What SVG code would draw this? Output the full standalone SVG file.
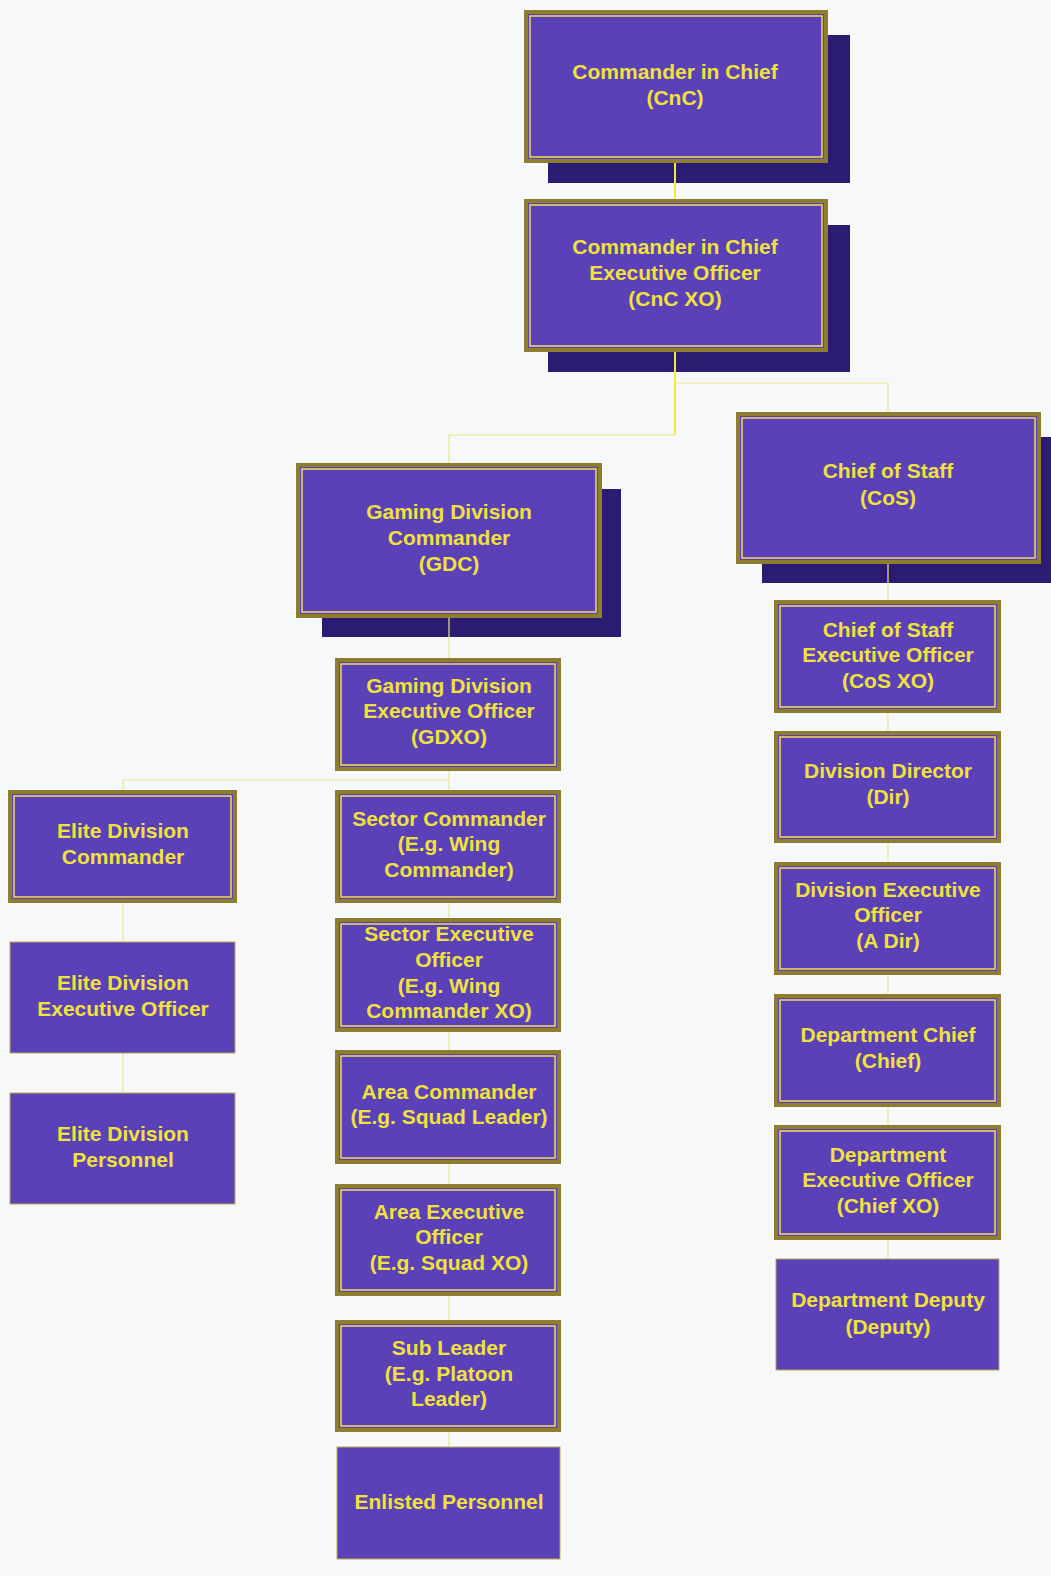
<svg xmlns="http://www.w3.org/2000/svg" width="1051" height="1576" viewBox="0 0 1051 1576">
<style>
.bg{fill:#f7f8fa}
.shadow{fill:#2b1b72}
.box{fill:#5a41b7}
.frame{fill:none;stroke:#8c7d2f;stroke-width:4}
.inner{fill:none;stroke:#e6d45c;stroke-width:1.6}
.plain{fill:#5a41b7;stroke:#b9a94a;stroke-width:1}
.lbl{font-family:"Liberation Sans",Arial,sans-serif;font-weight:bold;font-size:21px;fill:#f0e23c;text-anchor:middle}
.con{fill:none;stroke:#ede78a;stroke-width:1.2}
.conb{fill:none;stroke:#f2ea3a;stroke-width:2}
</style>
<rect class="bg" x="0" y="0" width="1051" height="1576"/>

<g id="shadows">
<rect class="shadow" x="548" y="35" width="302" height="148"/>
<rect class="shadow" x="548" y="225" width="302" height="147"/>
<rect class="shadow" x="322" y="489" width="299" height="148"/>
<rect class="shadow" x="762" y="437" width="289" height="146"/>
</g>

<g id="connectors">
<path class="conb" d="M675 161V201"/>
<path class="conb" d="M675 350V435"/>
<path class="con" d="M675 435H449V465"/>
<path class="con" d="M675 383H888V414"/>
<path class="con" d="M449 615V660"/>
<path class="con" d="M449 769V792"/>
<path class="con" d="M449 780H123V792"/>
<path class="con" d="M449 901V920"/>
<path class="con" d="M449 1030V1052"/>
<path class="con" d="M449 1162V1186"/>
<path class="con" d="M449 1294V1322"/>
<path class="con" d="M449 1430V1447"/>
<path class="con" d="M123 901V942"/>
<path class="con" d="M123 1053V1093"/>
<path class="con" d="M888 561V602"/>
<path class="con" d="M888 711V733"/>
<path class="con" d="M888 841V864"/>
<path class="con" d="M888 973V996"/>
<path class="con" d="M888 1105V1127"/>
<path class="con" d="M888 1238V1259"/>
</g>

<g id="cnc">
<rect class="box" x="526" y="12" width="300" height="149"/>
<rect class="frame" x="526" y="12" width="300" height="149"/>
<rect class="inner" x="530" y="16" width="292" height="141"/>
<text class="lbl" x="675" y="79">Commander in Chief</text>
<text class="lbl" x="675" y="105">(CnC)</text>
</g>

<g id="cncxo">
<rect class="box" x="526" y="201" width="300" height="149"/>
<rect class="frame" x="526" y="201" width="300" height="149"/>
<rect class="inner" x="530" y="205" width="292" height="141"/>
<text class="lbl" x="675" y="254">Commander in Chief</text>
<text class="lbl" x="675" y="280">Executive Officer</text>
<text class="lbl" x="675" y="306">(CnC XO)</text>
</g>

<g id="cos">
<rect class="box" x="738" y="414" width="301" height="148"/>
<rect class="frame" x="738" y="414" width="301" height="148"/>
<rect class="inner" x="742" y="418" width="293" height="140"/>
<text class="lbl" x="888" y="478">Chief of Staff</text>
<text class="lbl" x="888" y="505">(CoS)</text>
</g>

<g id="gdc">
<rect class="box" x="298" y="465" width="302" height="151"/>
<rect class="frame" x="298" y="465" width="302" height="151"/>
<rect class="inner" x="302" y="469" width="294" height="143"/>
<text class="lbl" x="449" y="519">Gaming Division</text>
<text class="lbl" x="449" y="545">Commander</text>
<text class="lbl" x="449" y="571">(GDC)</text>
</g>

<g id="gdxo">
<rect class="box" x="337" y="660" width="222" height="109"/>
<rect class="frame" x="337" y="660" width="222" height="109"/>
<rect class="inner" x="341" y="664" width="214" height="101"/>
<text class="lbl" x="449" y="693">Gaming Division</text>
<text class="lbl" x="449" y="718">Executive Officer</text>
<text class="lbl" x="449" y="744">(GDXO)</text>
</g>

<g id="elitecmd">
<rect class="box" x="10" y="792" width="225" height="109"/>
<rect class="frame" x="10" y="792" width="225" height="109"/>
<rect class="inner" x="14" y="796" width="217" height="101"/>
<text class="lbl" x="123" y="838">Elite Division</text>
<text class="lbl" x="123" y="864">Commander</text>
</g>

<g id="elitexo">
<rect class="plain" x="10" y="942" width="225" height="111"/>
<text class="lbl" x="123" y="990">Elite Division</text>
<text class="lbl" x="123" y="1016">Executive Officer</text>
</g>

<g id="elitepers">
<rect class="plain" x="10" y="1093" width="225" height="111"/>
<text class="lbl" x="123" y="1141">Elite Division</text>
<text class="lbl" x="123" y="1167">Personnel</text>
</g>

<g id="sectorcmd">
<rect class="box" x="337" y="792" width="222" height="109"/>
<rect class="frame" x="337" y="792" width="222" height="109"/>
<rect class="inner" x="341" y="796" width="214" height="101"/>
<text class="lbl" x="449" y="826">Sector Commander</text>
<text class="lbl" x="449" y="851">(E.g. Wing</text>
<text class="lbl" x="449" y="877">Commander)</text>
</g>

<g id="sectorxo">
<rect class="box" x="337" y="920" width="222" height="110"/>
<rect class="frame" x="337" y="920" width="222" height="110"/>
<rect class="inner" x="341" y="924" width="214" height="102"/>
<text class="lbl" x="449" y="941">Sector Executive</text>
<text class="lbl" x="449" y="967">Officer</text>
<text class="lbl" x="449" y="993">(E.g. Wing</text>
<text class="lbl" x="449" y="1018">Commander XO)</text>
</g>

<g id="areacmd">
<rect class="box" x="337" y="1052" width="222" height="110"/>
<rect class="frame" x="337" y="1052" width="222" height="110"/>
<rect class="inner" x="341" y="1056" width="214" height="102"/>
<text class="lbl" x="449" y="1099">Area Commander</text>
<text class="lbl" x="449" y="1124">(E.g. Squad Leader)</text>
</g>

<g id="areaxo">
<rect class="box" x="337" y="1186" width="222" height="108"/>
<rect class="frame" x="337" y="1186" width="222" height="108"/>
<rect class="inner" x="341" y="1190" width="214" height="100"/>
<text class="lbl" x="449" y="1219">Area Executive</text>
<text class="lbl" x="449" y="1244">Officer</text>
<text class="lbl" x="449" y="1270">(E.g. Squad XO)</text>
</g>

<g id="subleader">
<rect class="box" x="337" y="1322" width="222" height="108"/>
<rect class="frame" x="337" y="1322" width="222" height="108"/>
<rect class="inner" x="341" y="1326" width="214" height="100"/>
<text class="lbl" x="449" y="1355">Sub Leader</text>
<text class="lbl" x="449" y="1381">(E.g. Platoon</text>
<text class="lbl" x="449" y="1406">Leader)</text>
</g>

<g id="enlisted">
<rect class="plain" x="337" y="1447" width="223" height="112"/>
<text class="lbl" x="449" y="1509">Enlisted Personnel</text>
</g>

<g id="cosxo">
<rect class="box" x="776" y="602" width="223" height="109"/>
<rect class="frame" x="776" y="602" width="223" height="109"/>
<rect class="inner" x="780" y="606" width="215" height="101"/>
<text class="lbl" x="888" y="637">Chief of Staff</text>
<text class="lbl" x="888" y="662">Executive Officer</text>
<text class="lbl" x="888" y="688">(CoS XO)</text>
</g>

<g id="divdir">
<rect class="box" x="776" y="733" width="223" height="108"/>
<rect class="frame" x="776" y="733" width="223" height="108"/>
<rect class="inner" x="780" y="737" width="215" height="100"/>
<text class="lbl" x="888" y="778">Division Director</text>
<text class="lbl" x="888" y="804">(Dir)</text>
</g>

<g id="divxo">
<rect class="box" x="776" y="864" width="223" height="109"/>
<rect class="frame" x="776" y="864" width="223" height="109"/>
<rect class="inner" x="780" y="868" width="215" height="101"/>
<text class="lbl" x="888" y="897">Division Executive</text>
<text class="lbl" x="888" y="922">Officer</text>
<text class="lbl" x="888" y="948">(A Dir)</text>
</g>

<g id="deptchief">
<rect class="box" x="776" y="996" width="223" height="109"/>
<rect class="frame" x="776" y="996" width="223" height="109"/>
<rect class="inner" x="780" y="1000" width="215" height="101"/>
<text class="lbl" x="888" y="1042">Department Chief</text>
<text class="lbl" x="888" y="1068">(Chief)</text>
</g>

<g id="deptxo">
<rect class="box" x="776" y="1127" width="223" height="111"/>
<rect class="frame" x="776" y="1127" width="223" height="111"/>
<rect class="inner" x="780" y="1131" width="215" height="103"/>
<text class="lbl" x="888" y="1162">Department</text>
<text class="lbl" x="888" y="1187">Executive Officer</text>
<text class="lbl" x="888" y="1213">(Chief XO)</text>
</g>

<g id="deptdeputy">
<rect class="plain" x="776" y="1259" width="223" height="111"/>
<text class="lbl" x="888" y="1307">Department Deputy</text>
<text class="lbl" x="888" y="1334">(Deputy)</text>
</g>
</svg>
